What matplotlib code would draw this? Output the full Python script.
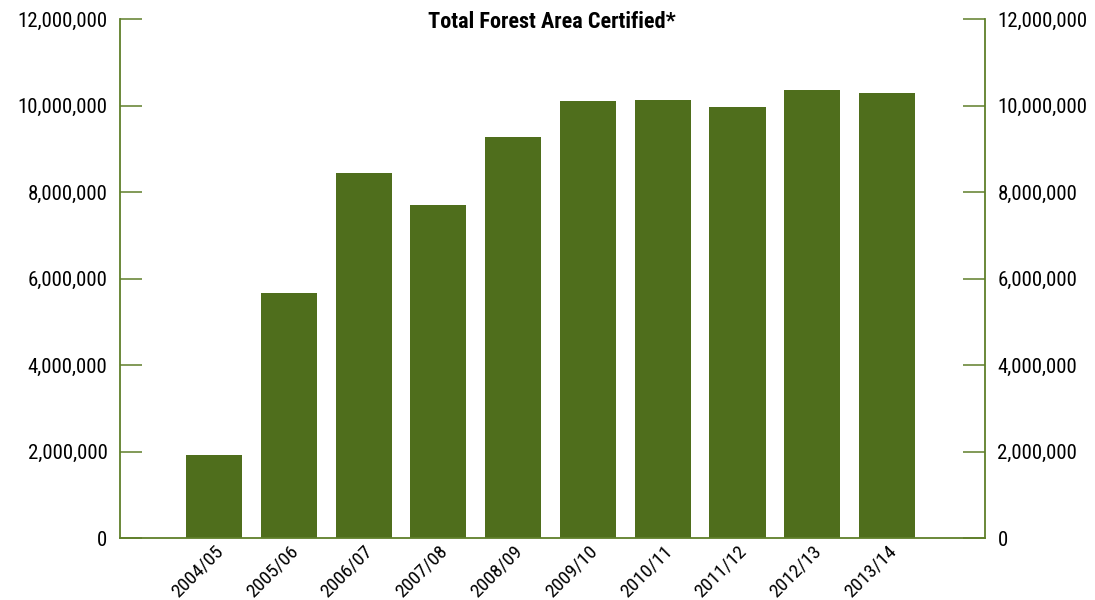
#!/usr/bin/env python3
"""Total Forest Area Certified - gráfico de barras por ano fiscal."""

import matplotlib
matplotlib.use("Agg")
import matplotlib.pyplot as plt
from matplotlib import font_manager
from matplotlib.ticker import FuncFormatter
from matplotlib.transforms import ScaledTranslation

YEARS = ["2004/05", "2005/06", "2006/07", "2007/08", "2008/09",
         "2009/10", "2010/11", "2011/12", "2012/13", "2013/14"]
AREA = [1920000, 5660000, 8440000, 7700000, 9270000,
        10100000, 10130000, 9970000, 10360000, 10290000]
Y_TICKS = [0, 2000000, 4000000, 6000000, 8000000, 10000000, 12000000]
TITLE = "Total Forest Area Certified*"

BAR_COLOR = "#4f6e1c"
LINE_COLOR = "#5f7f2a"

# Fonte condensada (tipo Helvetica Condensed) se existir
fonts = font_manager.fontManager.ttflist
PREFS = ["Liberation Sans Narrow", "Roboto Condensed", "Archivo Narrow",
         "Asap Condensed", "Barlow Condensed"]
names = {f.name for f in fonts}
base = next((n for n in PREFS if n in names), "Liberation Sans")
bold_ok = {f.name for f in fonts if f.weight in (700, "bold") and f.style == "normal"}
title_font = next((n for n in PREFS if n in names and n in bold_ok), base)
plt.rcParams["font.family"] = [base, "DejaVu Sans"]

fig = plt.figure(figsize=(10.95, 6.0), dpi=100)
ax = fig.add_axes([120 / 1095, 1 - 538 / 600, 865 / 1095, 519 / 600])

x = list(range(len(YEARS)))
ax.bar(x, AREA, width=0.75, color=BAR_COLOR, zorder=2)

ax.set_xlim(-1.257, 10.31)
ax.set_ylim(0, 12000000)
ax.set_yticks(Y_TICKS)
ax.yaxis.set_major_formatter(FuncFormatter(lambda v, p: f"{int(v):,}"))

ax.set_xticks(x)
ax.set_xticklabels(YEARS, rotation=45, ha="right", rotation_mode="anchor",
                   fontsize=14)
shift = ScaledTranslation(13 / 100, 0, fig.dpi_scale_trans)
for lbl in ax.get_xticklabels():
    lbl.set_transform(lbl.get_transform() + shift)
ax.tick_params(axis="x", length=0, pad=3)
ax.tick_params(axis="y", left=True, right=True, labelleft=True,
               labelright=True, direction="in", length=16, width=1.1,
               color=LINE_COLOR, labelsize=15, pad=9)

ax.spines["top"].set_visible(False)
for side in ["left", "right", "bottom"]:
    ax.spines[side].set_color(LINE_COLOR)
    ax.spines[side].set_linewidth(1.3)
    ax.spines[side].set_zorder(3)

fig.text(552 / 1095, 1 - 22 / 600, TITLE, ha="center", va="center",
         fontsize=16, fontweight="bold", family=[title_font, "DejaVu Sans"])

fig.savefig("out.png", dpi=100)
